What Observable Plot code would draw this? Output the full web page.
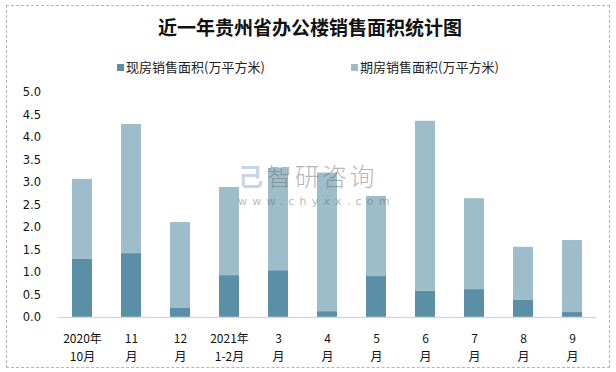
<!DOCTYPE html>
<html><head><meta charset="utf-8">
<script src="https://cdn.jsdelivr.net/npm/d3@7"></script>
<script src="https://cdn.jsdelivr.net/npm/@observablehq/plot@0.6"></script>
<style>
body{margin:0;background:#fff;}
#wrap{position:relative;width:616px;height:372px;overflow:hidden;font-family:"Noto Sans CJK SC",sans-serif;background:#fff;}
#frame{position:absolute;left:6px;top:5px;width:602px;height:361px;border:1px dashed #b4b4b4;pointer-events:none;}
#title{position:absolute;top:13px;left:0;width:620px;text-align:center;font-size:19px;font-weight:700;line-height:28px;color:#111;}
.sw{position:absolute;top:64px;width:7px;height:7px;}
.lt{position:absolute;top:57px;font-size:13px;line-height:20px;color:#222;white-space:nowrap;}
#chart{position:absolute;left:0;top:80px;}
#wm1{position:absolute;left:267px;top:162px;font-size:25px;font-weight:300;letter-spacing:2.5px;color:rgba(110,110,110,0.5);line-height:26px;}
#wm2{position:absolute;left:238px;top:195px;font-family:"DejaVu Sans",sans-serif;font-size:11px;letter-spacing:5.2px;color:rgba(110,110,110,0.5);line-height:13px;}
#wm0{position:absolute;left:238px;top:162px;font-size:25px;font-weight:700;color:rgba(150,175,215,0.55);line-height:26px;}
</style></head>
<body>
<div id="wrap">
  <div id="title">近一年贵州省办公楼销售面积统计图</div>
  <div class="sw" style="left:117px;background:#5b8fa7"></div>
  <div class="lt" style="left:126px">现房销售面积(万平方米)</div>
  <div class="sw" style="left:351px;background:#9dbdca"></div>
  <div class="lt" style="left:360px">期房销售面积(万平方米)</div>
  <div id="chart"></div>
  <div id="wm0">己</div>
  <div id="wm1">智研咨询</div>
  <div id="wm2">www.chyxx.com</div>
  <div id="frame"></div>
</div>
<script>
const months = ["2020年\n10月","11\n月","12\n月","2021年\n1-2月","3\n月","4\n月","5\n月","6\n月","7\n月","8\n月","9\n月"];
const seriesNames = ["现房销售面积(万平方米)","期房销售面积(万平方米)"];
const current = [1.29,1.42,0.20,0.93,1.04,0.13,0.91,0.58,0.62,0.38,0.11];
const forward = [1.78,2.87,1.91,1.96,2.27,3.08,1.78,3.78,2.02,1.18,1.60];
const yTicks = [0,0.5,1,1.5,2,2.5,3,3.5,4,4.5,5];
const colors = ["#5b8fa7","#9dbdca"];

const data = [];
months.forEach((m,i)=>{
  data.push({month:m, series:seriesNames[0], value:current[i]});
  data.push({month:m, series:seriesNames[1], value:forward[i]});
});

const chart = Plot.plot({
  width:616, height:292,
  marginTop:12, marginBottom:55, marginLeft:57.5, marginRight:19.5,
  style:{background:"transparent", color:"#222"},
  x:{domain:months, paddingInner:0.59, paddingOuter:0.295, axis:null},
  y:{domain:[0,5], axis:null},
  color:{domain:seriesNames, range:colors},
  marks:[
    Plot.barY(data, {x:"month", y:"value", fill:"series", order:seriesNames}),
    Plot.ruleY([0], {stroke:"#d9d9d9", strokeWidth:1.5}),
    Plot.axisY({ticks:yTicks, tickSize:0, tickPadding:17, tickFormat:d=>d.toFixed(1), fontSize:11.5, fontFamily:"DejaVu Sans", fill:"#111", label:null}),
    Plot.axisX({tickSize:0, tickPadding:13, lineHeight:1.5, fontSize:12, fontFamily:"Noto Sans CJK SC", fill:"#111", tickFormat:d=>d, label:null})
  ]
});
document.getElementById("chart").appendChild(chart);
</script>
</body></html>
